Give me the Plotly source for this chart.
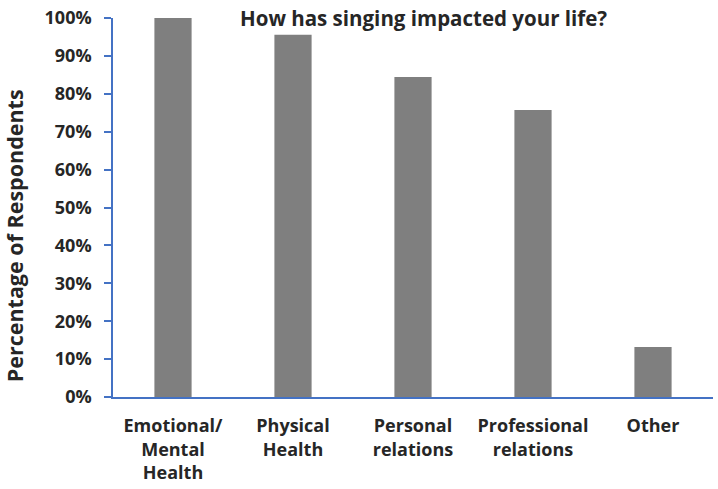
import plotly.graph_objects as go

categories = ["Emotional/<br>Mental<br>Health", "Physical<br>Health", "Personal<br>relations",
              "Professional<br>relations", "Other"]
values = [100.0, 95.6, 84.4, 75.7, 13.2]
tick_vals = [0, 10, 20, 30, 40, 50, 60, 70, 80, 90, 100]
tick_text = [f"{v}%" for v in tick_vals]

FONT = "'Open Sans', Lato, sans-serif"
AXIS_COLOR = "#4472C4"
TEXT_COLOR = "#262626"

fig = go.Figure(go.Bar(x=categories, y=values, marker=dict(color="#7f7f7f", line=dict(width=0)),
                       width=0.31))

fig.update_layout(
    width=718, height=489,
    margin=dict(l=113, r=5, t=16, b=91),
    plot_bgcolor="white", paper_bgcolor="white",
    showlegend=False,
    font=dict(family=FONT, color=TEXT_COLOR),
    annotations=[
        dict(text="<b>How has singing impacted your life?</b>", xref="paper", yref="paper",
             x=0.517, y=1.0, xanchor="center", yanchor="middle", showarrow=False,
             font=dict(size=20.5, family=FONT, color=TEXT_COLOR)),
        dict(text="<b>Percentage of Respondents</b>", xref="paper", yref="paper",
             x=-0.165, y=0.424, xanchor="center", yanchor="middle", showarrow=False,
             textangle=-90, font=dict(size=21.5, family=FONT, color=TEXT_COLOR)),
    ],
)
fig.update_xaxes(showline=True, linecolor=AXIS_COLOR, linewidth=1.5, ticks="",
                 ticklabelstandoff=12,
                 tickfont=dict(size=18, family=FONT, color=TEXT_COLOR, weight="bold"),
                 showgrid=False)
fig.update_yaxes(range=[0, 100], tickvals=tick_vals, ticktext=tick_text,
                 showline=True, linecolor=AXIS_COLOR, linewidth=1.5,
                 ticks="outside", ticklen=7, tickcolor=AXIS_COLOR, tickwidth=1.5,
                 ticklabelstandoff=9,
                 tickfont=dict(size=18, family=FONT, color=TEXT_COLOR, weight="bold"),
                 showgrid=False, zeroline=False)

fig.write_html("out.html", config={"displayModeBar": False},
               post_script="document.body.style.margin='0';")
